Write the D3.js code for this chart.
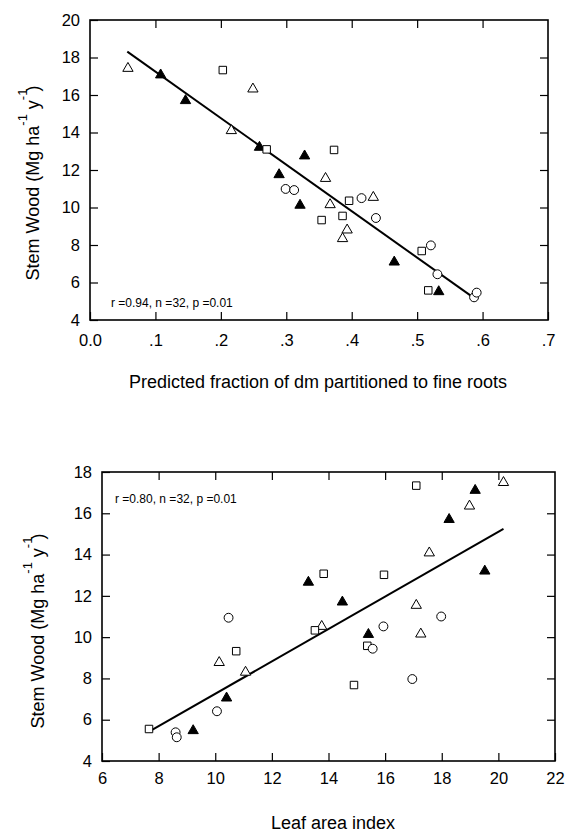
<!DOCTYPE html>
<html>
<head>
<meta charset="utf-8">
<script src="https://cdn.jsdelivr.net/npm/d3@7"></script>
<style>
  body { margin: 0; background: #fff; }
  svg { display: block; font-family: "Liberation Sans", Arial, sans-serif; }
</style>
</head>
<body>
<div class="canva"></div>
<script>
// --- data ---
// top panel: predicted fraction of dm to fine roots vs stem wood
const rootsOpenTri   = [[0.058, 17.42], [0.249, 16.32], [0.216, 14.10], [0.360, 11.55], [0.367, 10.15], [0.433, 10.54], [0.393, 8.80], [0.386, 8.34]];
const rootsFilledTri = [[0.108, 17.07], [0.146, 15.70], [0.259, 13.21], [0.328, 12.75], [0.289, 11.75], [0.321, 10.12], [0.465, 7.09], [0.533, 5.51]];
const rootsSquare    = [[0.203, 17.33], [0.270, 13.10], [0.373, 13.07], [0.396, 10.36], [0.354, 9.33], [0.386, 9.55], [0.507, 7.68], [0.517, 5.58]];
const rootsCircle    = [[0.299, 10.99], [0.312, 10.93], [0.415, 10.50], [0.437, 9.44], [0.521, 7.98], [0.531, 6.44], [0.587, 5.21], [0.591, 5.46]];
const rootsFit       = [[0.057, 18.31], [0.591, 5.07]];
const rootsTicksX    = [0, 0.1, 0.2, 0.3, 0.4, 0.5, 0.6, 0.7];
const rootsTicksY    = [4, 6, 8, 10, 12, 14, 16, 18, 20];
const rootsStats     = "r =0.94, n =32, p =0.01";

// bottom panel: leaf area index vs stem wood
const laiOpenTri   = [[20.18, 17.49], [18.98, 16.35], [17.56, 14.08], [17.10, 11.54], [10.14, 8.77], [11.07, 8.30], [13.76, 10.52], [17.26, 10.15]];
const laiFilledTri = [[19.18, 17.11], [18.26, 15.70], [19.52, 13.20], [13.29, 12.66], [14.49, 11.70], [10.40, 7.05], [9.22, 5.47], [15.41, 10.13]];
const laiSquare    = [[17.10, 17.34], [13.83, 13.07], [15.96, 13.02], [13.52, 10.33], [10.74, 9.32], [7.66, 5.55], [15.37, 9.58], [14.90, 7.68]];
const laiCircle    = [[17.98, 11.00], [10.47, 10.94], [10.06, 6.41], [8.60, 5.39], [8.64, 5.15], [15.94, 10.52], [15.56, 9.44], [16.96, 7.97]];
const laiFit       = [[7.66, 5.42], [20.18, 15.24]];
const laiTicksX    = [6, 8, 10, 12, 14, 16, 18, 20, 22];
const laiTicksY    = [4, 6, 8, 10, 12, 14, 16, 18];
const laiStats     = "r =0.80, n =32, p =0.01";

const W = 568, H = 833;

const svg = d3.select(".canva").append("svg")
    .attr("width", W)
    .attr("height", H)
    .attr("viewBox", [0, 0, W, H]);

function panel(o) {
    const x = d3.scaleLinear(o.xDomain, [o.left, o.right]);
    const y = d3.scaleLinear(o.yDomain, [o.bottom, o.top]);
    const g = svg.append("g");
    const tk = 8;

    // ticks on all four sides, pointing in
    g.append("g")
        .attr("transform", `translate(0,${o.bottom})`)
        .call(d3.axisBottom(x).tickValues(o.ticksX).tickSize(-tk).tickPadding(o.padX).tickFormat(o.fmtX))
        .call(a => a.select(".domain").remove())
        .call(a => a.selectAll("text").attr("font-size", 16.5).attr("fill", "#000").attr("font-family", null));
    g.append("g")
        .attr("transform", `translate(0,${o.top})`)
        .call(d3.axisTop(x).tickValues(o.ticksX.slice(1, -1)).tickSize(-tk).tickFormat(""))
        .call(a => a.select(".domain").remove());
    g.append("g")
        .attr("transform", `translate(${o.left},0)`)
        .call(d3.axisLeft(y).tickValues(o.ticksY).tickSize(-tk).tickPadding(10).tickFormat(d3.format("d")))
        .call(a => a.select(".domain").remove())
        .call(a => a.selectAll("text").attr("font-size", 16.5).attr("fill", "#000").attr("font-family", null));
    g.append("g")
        .attr("transform", `translate(${o.right},0)`)
        .call(d3.axisRight(y).tickValues(o.ticksY.slice(1, -1)).tickSize(-tk).tickFormat(""))
        .call(a => a.select(".domain").remove());
    g.selectAll(".tick line").attr("stroke", "#000").attr("stroke-width", 1.2);

    g.append("rect")
        .attr("x", o.left).attr("y", o.top)
        .attr("width", o.right - o.left).attr("height", o.bottom - o.top)
        .attr("fill", "none").attr("stroke", "#000").attr("stroke-width", 1.6);

    // fit line
    g.append("path")
        .attr("d", d3.line().x(d => x(d[0])).y(d => y(d[1]))(o.fit))
        .attr("fill", "none").attr("stroke", "#000").attr("stroke-width", 2);

    const groups = [
        { data: o.openTri, type: d3.symbolTriangle, size: 46, fill: "#fff" },
        { data: o.filledTri, type: d3.symbolTriangle, size: 46, fill: "#000" },
        { data: o.square, type: d3.symbolSquare, size: 56, fill: "#fff" },
        { data: o.circle, type: d3.symbolCircle, size: 62, fill: "#fff" }
    ];
    groups.forEach(s => {
        g.append("g").selectAll("path")
            .data(s.data)
            .join("path")
            .attr("transform", d => `translate(${x(d[0])},${y(d[1])})`)
            .attr("d", d3.symbol(s.type, s.size))
            .attr("fill", s.fill)
            .attr("stroke", "#000")
            .attr("stroke-width", 1);
    });

    g.append("text")
        .attr("x", o.statsX).attr("y", o.statsY)
        .attr("font-size", 12)
        .text(o.stats);

    // axis titles
    g.append("text")
        .attr("x", o.xTitleX).attr("y", o.xTitleY)
        .attr("text-anchor", "middle")
        .attr("font-size", 18)
        .text(o.xTitle);

    const yt = g.append("text")
        .attr("transform", `translate(${o.yTitleX},${o.yTitleY}) rotate(-90)`)
        .attr("text-anchor", "middle")
        .attr("font-size", 18);
    yt.append("tspan").text("Stem Wood (Mg ha");
    yt.append("tspan").attr("dy", -12).attr("font-size", 13).text("-1");
    yt.append("tspan").attr("dy", 12).text("  y");
    yt.append("tspan").attr("dy", -12).attr("font-size", 13).text("-1");
    yt.append("tspan").attr("dy", 12).attr("dx", -3).text(")");
}

panel({
    xDomain: [0, 0.7], yDomain: [4, 20],
    left: 90, right: 548, top: 20, bottom: 320,
    ticksX: rootsTicksX, ticksY: rootsTicksY, padX: 14,
    fmtX: d => d === 0 ? "0.0" : d3.format(".1f")(d).replace(/^0/, ""),
    openTri: rootsOpenTri, filledTri: rootsFilledTri, square: rootsSquare, circle: rootsCircle,
    fit: rootsFit,
    stats: rootsStats, statsX: 111, statsY: 307,
    xTitle: "Predicted fraction of dm partitioned to fine roots", xTitleX: 318, xTitleY: 388,
    yTitleX: 39, yTitleY: 183
});

panel({
    xDomain: [6, 22], yDomain: [4, 18],
    left: 102, right: 555, top: 472, bottom: 761,
    ticksX: laiTicksX, ticksY: laiTicksY, padX: 11,
    fmtX: d3.format("d"),
    openTri: laiOpenTri, filledTri: laiFilledTri, square: laiSquare, circle: laiCircle,
    fit: laiFit,
    stats: laiStats, statsX: 115, statsY: 503,
    xTitle: "Leaf  area index", xTitleX: 333, xTitleY: 829,
    yTitleX: 44, yTitleY: 631
});
</script>
</body>
</html>
